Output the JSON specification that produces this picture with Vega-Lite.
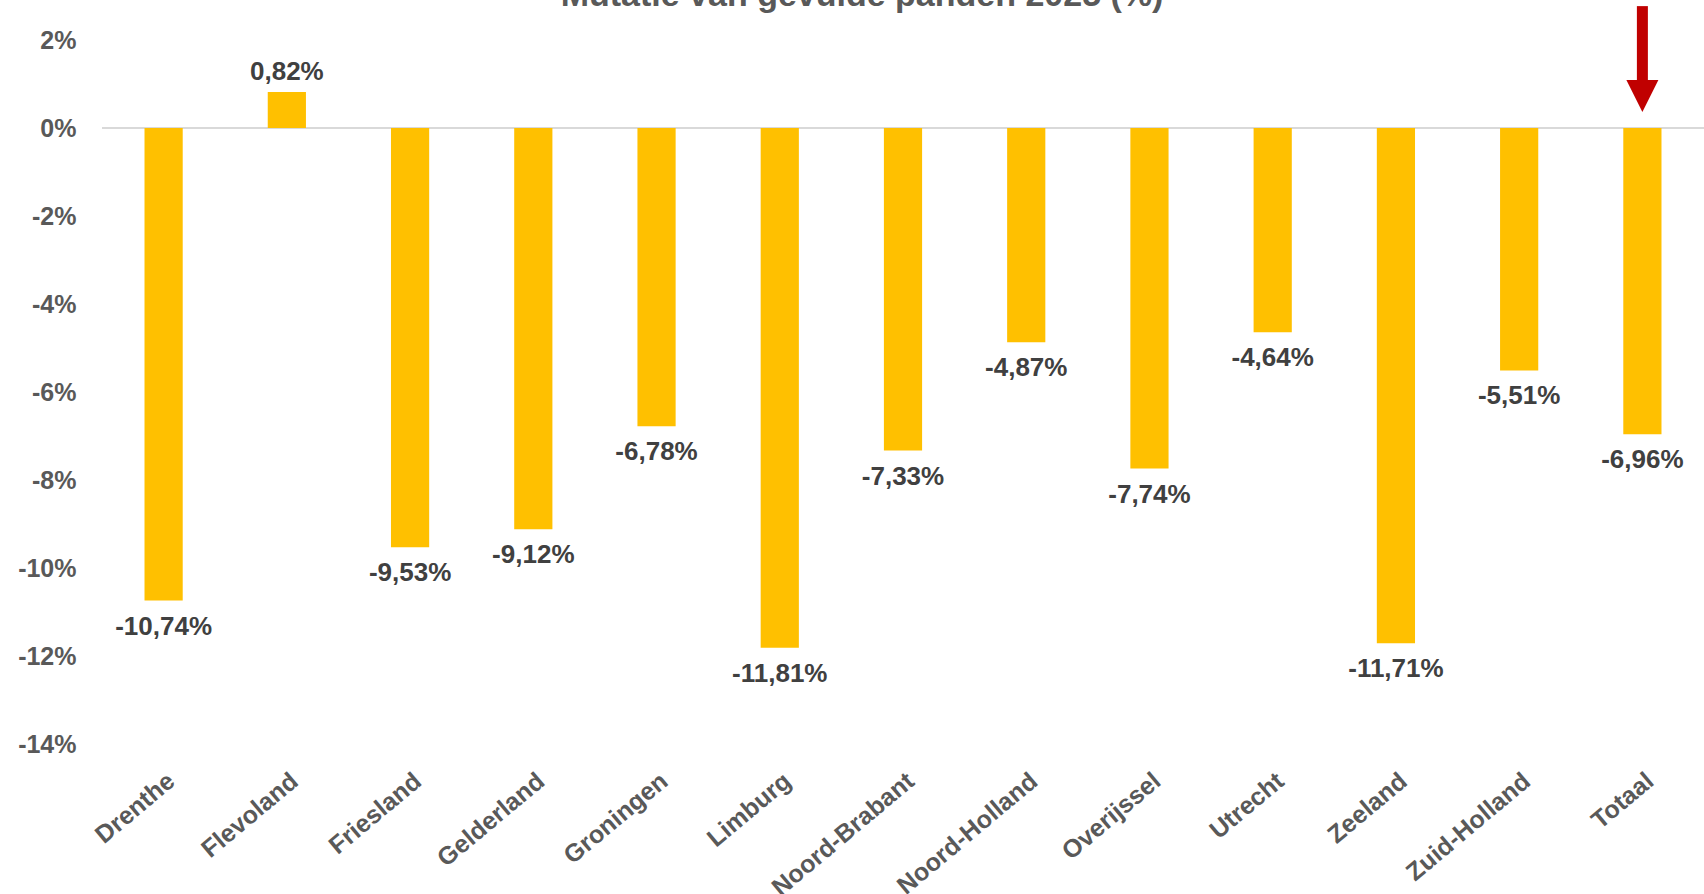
{
  "$schema": "https://vega.github.io/schema/vega-lite/v6.json",
  "width": 1602,
  "height": 704,
  "autosize": {"type": "none"},
  "padding": {"left": 102, "top": 40, "right": 0, "bottom": 150},
  "background": "white",
  "config": {
    "locale": {"number": {"decimal": ",", "thousands": ".", "grouping": [3], "currency": ["€", ""], "minus": "-"}},
    "view": {"stroke": null},
    "font": "Liberation Sans"
  },
  "title": {
    "text": "Mutatie van gevulde panden 2025 (%)",
    "font": "Liberation Sans",
    "fontSize": 34,
    "fontWeight": "bold",
    "color": "#595959",
    "anchor": "middle",
    "baseline": "alphabetic",
    "offset": 0,
    "dy": 39,
    "dx": -41
  },
  "data": {
    "values": [
      {"provincie": "Drenthe", "mutatie": -0.1074},
      {"provincie": "Flevoland", "mutatie": 0.0082},
      {"provincie": "Friesland", "mutatie": -0.0953},
      {"provincie": "Gelderland", "mutatie": -0.0912},
      {"provincie": "Groningen", "mutatie": -0.0678},
      {"provincie": "Limburg", "mutatie": -0.1181},
      {"provincie": "Noord-Brabant", "mutatie": -0.0733},
      {"provincie": "Noord-Holland", "mutatie": -0.0487},
      {"provincie": "Overijssel", "mutatie": -0.0774},
      {"provincie": "Utrecht", "mutatie": -0.0464},
      {"provincie": "Zeeland", "mutatie": -0.1171},
      {"provincie": "Zuid-Holland", "mutatie": -0.0551},
      {"provincie": "Totaal", "mutatie": -0.0696}
    ]
  },
  "encoding": {
    "x": {
      "field": "provincie",
      "type": "nominal",
      "sort": null,
      "scale": {"paddingInner": 0.69, "paddingOuter": 0.345},
      "axis": {
        "title": null,
        "domain": false,
        "ticks": false,
        "tickSize": 0,
        "labelAngle": -40,
        "labelAlign": "right",
        "labelBaseline": "top",
        "labelPadding": 24,
        "labelFont": "Liberation Sans",
        "labelFontSize": 25,
        "labelFontWeight": "bold",
        "labelColor": "#595959",
        "labelOverlap": false
      }
    }
  },
  "layer": [
    {
      "mark": {"type": "rule", "color": "#D9D9D9", "strokeWidth": 1.5},
      "encoding": {"y": {"datum": 0, "type": "quantitative"}, "x": null}
    },
    {
      "mark": {"type": "bar", "color": "#FFC000"},
      "encoding": {
        "y": {
          "field": "mutatie",
          "type": "quantitative",
          "scale": {"domain": [-0.14, 0.02], "nice": false, "zero": false},
          "axis": {
            "title": null,
            "domain": false,
            "ticks": false,
            "tickSize": 0,
            "grid": false,
            "values": [0.02, 0, -0.02, -0.04, -0.06, -0.08, -0.1, -0.12, -0.14],
            "format": ".0%",
            "labelPadding": 26,
            "labelFont": "Liberation Sans",
            "labelFontSize": 25,
            "labelFontWeight": "bold",
            "labelColor": "#595959"
          }
        }
      }
    },
    {
      "transform": [{"filter": "datum.mutatie < 0"}],
      "mark": {"type": "text", "font": "Liberation Sans", "fontSize": 26, "fontWeight": "bold", "color": "#404040", "baseline": "alphabetic", "dy": 34},
      "encoding": {
        "y": {"field": "mutatie", "type": "quantitative"},
        "text": {"field": "mutatie", "type": "quantitative", "format": ".2%"}
      }
    },
    {
      "transform": [{"filter": "datum.mutatie >= 0"}],
      "mark": {"type": "text", "font": "Liberation Sans", "fontSize": 26, "fontWeight": "bold", "color": "#404040", "baseline": "alphabetic", "dy": -12},
      "encoding": {
        "y": {"field": "mutatie", "type": "quantitative"},
        "text": {"field": "mutatie", "type": "quantitative", "format": ".2%"}
      }
    },
    {
      "transform": [{"filter": "datum.provincie === 'Totaal'"}],
      "mark": {"type": "rule", "color": "#C00000", "strokeWidth": 11, "strokeCap": "butt"},
      "encoding": {
        "y": {"datum": 0.0277, "type": "quantitative"},
        "y2": {"datum": 0.0109}
      }
    },
    {
      "transform": [{"filter": "datum.provincie === 'Totaal'"}],
      "mark": {"type": "point", "shape": "M-1,-1L1,-1L0,1Z", "size": 1024, "filled": true, "color": "#C00000", "opacity": 1},
      "encoding": {
        "y": {"datum": 0.00727, "type": "quantitative"}
      }
    }
  ]
}
